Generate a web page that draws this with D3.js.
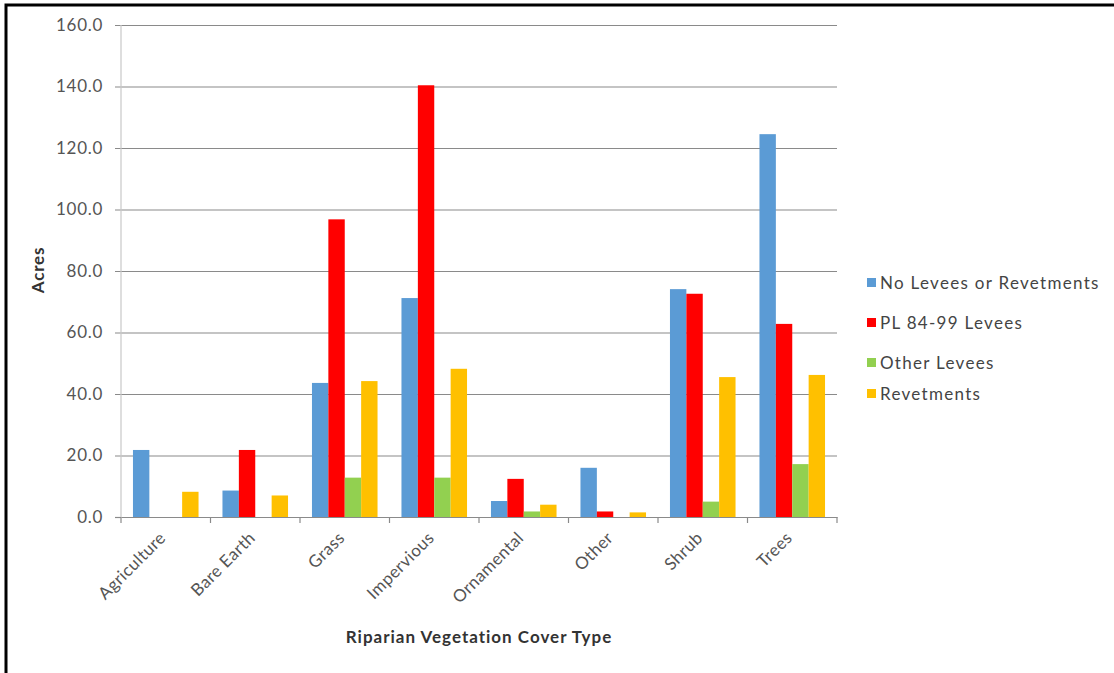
<!DOCTYPE html>
<html>
<head>
<meta charset="utf-8">
<script src="https://cdn.jsdelivr.net/npm/d3@7"></script>
<style>
  html, body { margin: 0; padding: 0; background: #fff; }
  svg { display: block; }
  text { font-family: Lato, "Open Sans", "Liberation Sans", sans-serif; }
</style>
</head>
<body>
<svg id="chart" width="1114" height="673"></svg>
<script>
// Riparian vegetation cover (acres) by cover type and bank protection type
const categories = ["Agriculture", "Bare Earth", "Grass", "Impervious", "Ornamental", "Other", "Shrub", "Trees"];
const seriesNames = ["No Levees or Revetments", "PL 84-99 Levees", "Other Levees", "Revetments"];
const seriesColors = ["#5B9BD5", "#FF0000", "#92D050", "#FFC000"];
const noLevees    = [21.8, 8.6, 43.6, 71.2, 5.2, 16.0, 74.1, 124.5];
const pl8499      = [0.0, 21.8, 96.8, 140.4, 12.4, 1.8, 72.6, 62.8];
const otherLevees = [0.0, 0.0, 12.8, 12.8, 1.8, 0.0, 5.0, 17.2];
const revetments  = [8.2, 7.0, 44.2, 48.2, 4.0, 1.5, 45.5, 46.2];
const yTicks = [0, 20, 40, 60, 80, 100, 120, 140, 160];

const seriesValues = [noLevees, pl8499, otherLevees, revetments];

const svg = d3.select("#chart");
const fontSize = 17;

// frame around the figure
svg.append("rect")
  .attr("x", 6).attr("y", 5)
  .attr("width", 1120).attr("height", 680)
  .attr("fill", "none").attr("stroke", "#000").attr("stroke-width", 3);

const plotLeft = 121, plotRight = 837, plotTop = 25, plotBottom = 517;

const x0 = d3.scaleBand().domain(categories).range([plotLeft, plotRight]).padding(0);
const x1 = d3.scaleBand().domain(seriesNames).range([0, x0.bandwidth()])
  .paddingInner(0).paddingOuter(0.73);
const y = d3.scaleLinear().domain([0, 160]).range([plotBottom, plotTop]);

// horizontal gridlines with tick labels
const yAxis = d3.axisLeft(y).tickValues(yTicks).tickFormat(d3.format(".1f"))
  .tickSize(0).tickPadding(12);
const yG = svg.append("g").attr("transform", `translate(${plotLeft - 6},0)`).call(yAxis);
yG.select(".domain").remove();
yG.selectAll(".tick line").attr("stroke", "#8a8a8a").attr("stroke-width", 1.2)
  .attr("x1", 0).attr("x2", plotRight - plotLeft + 6);
yG.selectAll(".tick text").attr("fill", "#555").attr("font-size", fontSize)
  .attr("letter-spacing", 0.7)
  .attr("x", -12);
yG.selectAll(".tick").filter(d => d === 0).select("line").attr("x2", 6);

// vertical axis line
svg.append("line")
  .attr("x1", plotLeft).attr("x2", plotLeft).attr("y1", plotTop).attr("y2", plotBottom)
  .attr("stroke", "#c8c8c8").attr("stroke-width", 1.2);

// bars
const groups = svg.append("g").selectAll("g")
  .data(categories)
  .join("g")
  .attr("transform", d => `translate(${x0(d)},0)`);

groups.selectAll("rect")
  .data((c, i) => seriesNames.map((s, k) => ({ s, k, v: seriesValues[k][i] })))
  .join("rect")
  .attr("x", d => x1(d.s))
  .attr("width", x1.bandwidth())
  .attr("y", d => y(d.v))
  .attr("height", d => y(0) - y(d.v))
  .attr("fill", d => seriesColors[d.k]);

// category axis
const xAxis = d3.axisBottom(x0).tickSize(0).tickFormat(() => "");
svg.append("g").attr("transform", `translate(0,${plotBottom})`).call(xAxis)
  .select(".domain").attr("stroke", "#8a8a8a").attr("stroke-width", 1.2);

// category boundary tick marks
const boundaries = d3.range(categories.length + 1).map(i => plotLeft + i * x0.step());
svg.append("g").selectAll("line").data(boundaries).join("line")
  .attr("x1", d => d).attr("x2", d => d)
  .attr("y1", plotBottom).attr("y2", plotBottom + 6)
  .attr("stroke", "#8a8a8a").attr("stroke-width", 1.2);

// rotated category labels
svg.append("g").selectAll("text").data(categories).join("text")
  .attr("transform", d => `translate(${x0(d) + x0.bandwidth() / 2 + 1},${plotBottom + 22}) rotate(-45)`)
  .attr("text-anchor", "end")
  .attr("fill", "#555")
  .attr("font-size", fontSize)
  .attr("letter-spacing", 0.4)
  .text(d => d);

// axis titles
svg.append("text")
  .attr("x", 479).attr("y", 643)
  .attr("text-anchor", "middle")
  .attr("font-weight", "bold").attr("font-size", fontSize).attr("fill", "#333")
  .attr("letter-spacing", 1.0)
  .text("Riparian Vegetation Cover Type");

svg.append("text")
  .attr("transform", "translate(44,270) rotate(-90)")
  .attr("text-anchor", "middle")
  .attr("font-weight", "bold").attr("font-size", fontSize).attr("fill", "#333")
  .attr("letter-spacing", 0.8)
  .text("Acres");

// legend
const legendY = [283, 323, 363, 394];
const legend = svg.append("g").selectAll("g").data(seriesNames).join("g")
  .attr("transform", (d, i) => `translate(867,${legendY[i]})`);
legend.append("rect")
  .attr("x", 0).attr("y", -5).attr("width", 9).attr("height", 9)
  .attr("fill", (d, i) => seriesColors[i]);
legend.append("text")
  .attr("x", 13).attr("y", 6)
  .attr("font-size", fontSize).attr("fill", "#444")
  .attr("letter-spacing", 1.3)
  .text(d => d);
</script>
</body>
</html>
